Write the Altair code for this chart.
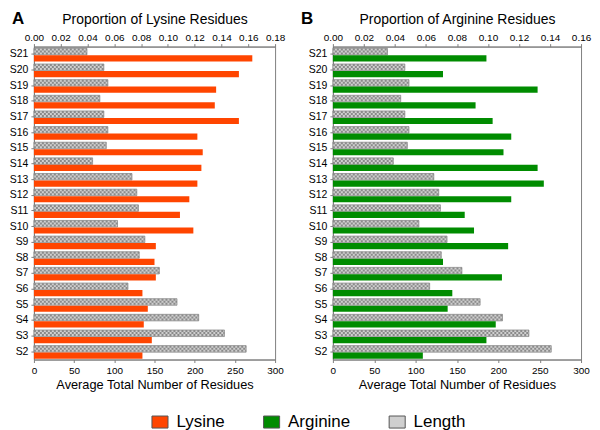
import altair as alt
import pandas as pd

samples = ["S21", "S20", "S19", "S18", "S17", "S16", "S15", "S14", "S13", "S12",
           "S11", "S10", "S9", "S8", "S7", "S6", "S5", "S4", "S3", "S2"]
length = [66, 87, 92, 82, 87, 92, 90, 73, 122, 128,
          130, 104, 138, 131, 156, 117, 178, 205, 237, 264]
lysine = [0.163, 0.153, 0.136, 0.135, 0.153, 0.122, 0.126, 0.125, 0.122, 0.116,
          0.109, 0.119, 0.091, 0.090, 0.091, 0.081, 0.085, 0.082, 0.088, 0.081]
arginine = [0.099, 0.071, 0.132, 0.092, 0.103, 0.115, 0.110, 0.132, 0.136, 0.115,
            0.085, 0.091, 0.113, 0.071, 0.109, 0.077, 0.074, 0.105, 0.099, 0.058]
series = ["Lysine", "Arginine", "Length"]
colors = ["#ff4500", "#008c00", "#cfcfcf"]
length_ticks = [0, 50, 100, 150, 200, 250, 300]
lys_ticks = [0.00, 0.02, 0.04, 0.06, 0.08, 0.10, 0.12, 0.14, 0.16, 0.18]
arg_ticks = [0.00, 0.02, 0.04, 0.06, 0.08, 0.10, 0.12, 0.14, 0.16]

FONT = "Liberation Sans"
fill_scale = alt.Scale(domain=series, range=colors)
legend = alt.Legend(title=None, orient="none", direction="horizontal",
                    legendX=118, legendY=368, labelFontSize=17, labelFont=FONT,
                    labelColor="#000", symbolType="M-1.2,-0.9H1.2V0.9H-1.2Z",
                    symbolSize=180, symbolStrokeColor="#555", symbolStrokeWidth=1,
                    columnPadding=36, labelOffset=8)


def panel(letter, prop_name, prop_vals, ticks, width, letter_x):
    df = pd.DataFrame({"sample": samples, "length": length, "prop": prop_vals,
                       "zero": [0] * len(samples),
                       "lenser": ["Length"] * len(samples),
                       "propser": [prop_name] * len(samples)})
    base = alt.Chart(df)
    y = alt.Y("sample:N", sort=samples, title=None,
              scale=alt.Scale(paddingInner=0, paddingOuter=0),
              axis=alt.Axis(labelFontSize=10.5, labelPadding=3, tickSize=3))
    len_x = alt.X("length:Q", scale=alt.Scale(domain=[0, 300], nice=False),
                  axis=alt.Axis(orient="bottom", values=length_ticks,
                                title="Average Total Number of Residues",
                                labelFlush=False, labelOverlap=False,
                                labelPadding=3, titlePadding=3))
    len_bar = base.mark_bar(size=6.6, yOffset=-2.8, stroke="#6f6f6f",
                            strokeWidth=0.6).encode(
        x=len_x, y=y,
        fill=alt.Fill("lenser:N", scale=fill_scale, legend=legend))
    rules = []
    for off, dash_off in [(-5.0, 0), (-3.0, 2), (-1.0, 0)]:
        rules.append(base.mark_rule(yOffset=off, strokeWidth=2, color="#8a8a8a",
                                    strokeDash=[2, 2], strokeDashOffset=dash_off,
                                    strokeCap="butt").encode(
            x=alt.X("zero:Q", scale=alt.Scale(domain=[0, 300], nice=False), axis=None),
            x2="length:Q", y=y))
    prop_bar = base.mark_bar(size=6.2, yOffset=4.0).encode(
        x=alt.X("prop:Q", scale=alt.Scale(domain=[ticks[0], ticks[-1]], nice=False),
                axis=alt.Axis(orient="top", values=ticks, format=".2f",
                              labelFlush=False, labelOverlap=False,
                              title=f"Proportion of {prop_name} Residues",
                              titleFontSize=14, labelPadding=1, titlePadding=6)),
        y=y,
        fill=alt.Fill("propser:N", scale=fill_scale, legend=legend))
    letter_mark = alt.Chart(pd.DataFrame({"t": [letter]})).mark_text(
        align="left", baseline="middle", fontSize=17, fontWeight="bold",
        font=FONT, color="#000").encode(
        text="t:N", x=alt.value(letter_x), y=alt.value(-28))
    return alt.layer(len_bar, *rules, prop_bar, letter_mark).resolve_scale(
        x="independent").properties(width=width, height=314)


chart = alt.hconcat(
    panel("A", "Lysine", lysine, lys_ticks, 242, -22),
    panel("B", "Arginine", arginine, arg_ticks, 249, -32),
    spacing=14,
).properties(padding={"left": 0, "top": 0, "right": 0, "bottom": 0}).configure_view(
    stroke="#808080", strokeWidth=1
).configure_axis(
    labelFont=FONT, labelFontSize=10, labelColor="#000",
    titleFont=FONT, titleFontSize=12.8, titleFontWeight="normal", titleColor="#000",
    domainColor="#808080", tickColor="#808080", tickSize=3, grid=False
).configure_text(font=FONT)

chart.save("out.html", embed_options={"renderer": "svg", "actions": False})
